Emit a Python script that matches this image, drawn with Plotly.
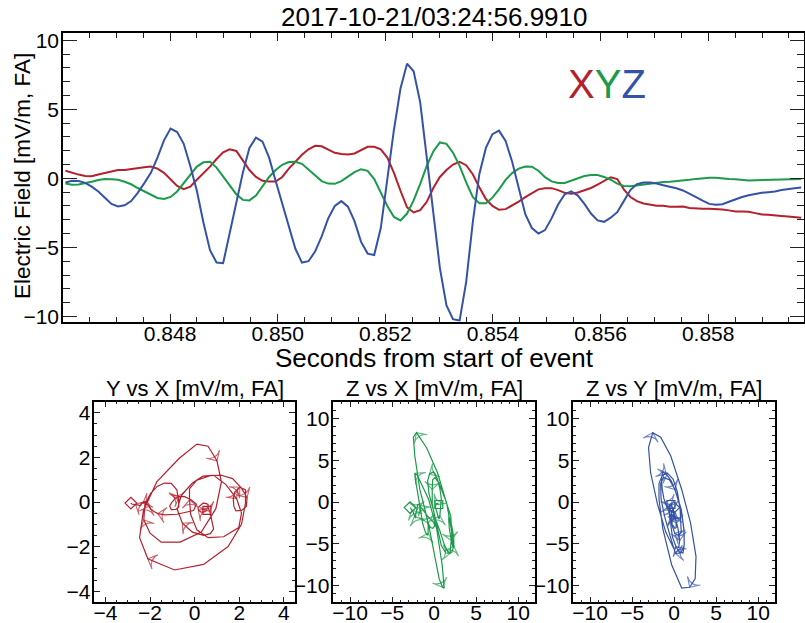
import numpy as np
import plotly.graph_objects as go

# ---------------- data ----------------
TITLE = "2017-10-21/03:24:56.9910"
T0 = 0.846056          # first sample time [s]
DT = 1.2207e-4         # sample spacing [s] (8192 samples/s)

ex = [0.55, 0.4, 0.27, 0.17, 0.15, 0.28, 0.38, 0.5, 0.6, 0.6,
      0.68, 0.74, 0.8, 0.85, 0.7, 0.4, -0.1, -0.55, -0.78, -0.6,
      -0.1, 0.37, 0.85, 1.4, 1.88, 2.1, 1.98, 1.3, 0.6, 0.1,
      -0.18, -0.23, -0.23, 0.1, 0.7, 1.2, 1.7, 2.1, 2.35, 2.32,
      2.1, 1.85, 1.76, 1.73, 1.8, 2.03, 2.28, 2.28, 2.1, 1.5,
      0.4, -0.9, -2.1, -2.47, -2.3, -1.7, -0.7, 0.1, 0.6, 1.0,
      1.2, 0.95, 0.3, -0.65, -1.5, -2.0, -2.28, -2.23, -1.98, -1.68,
      -1.36, -1.05, -0.8, -0.72, -0.71, -0.85, -1.05, -1.12, -1.03, -0.86,
      -0.7, -0.45, -0.16, 0.08, -0.05, -0.8, -1.35, -1.65, -1.82, -1.93,
      -1.99, -1.98, -2.06, -2.05, -2.04, -2.14, -2.18, -2.2, -2.2, -2.2,
      -2.25, -2.32, -2.4, -2.41, -2.42, -2.52, -2.61, -2.63, -2.65, -2.72,
      -2.77, -2.82, -2.86]

ey = [-0.38, -0.46, -0.44, -0.37, -0.25, -0.12, -0.05, -0.06, -0.11, -0.25,
      -0.43, -0.7, -0.95, -1.22, -1.42, -1.5, -1.35, -0.95, -0.33, 0.3,
      0.85, 1.16, 1.2, 0.78, 0.15, -0.5, -1.15, -1.56, -1.6, -1.25,
      -0.55, 0.1, 0.6, 0.98, 1.18, 1.2, 1.05, 0.62, 0.2, -0.2,
      -0.38, -0.4, -0.2, 0.15, 0.45, 0.66, 0.54, -0.05, -1.0, -2.0,
      -2.8, -3.05, -2.55, -1.6, -0.4, 0.9, 1.95, 2.6, 2.5, 1.85,
      0.9, -0.3, -1.35, -1.8, -1.8, -1.4, -0.8, -0.11, 0.38, 0.7,
      0.85, 0.84, 0.55, 0.08, -0.22, -0.33, -0.34, -0.18, -0.03, 0.17,
      0.24, 0.24, 0.1, -0.1, -0.38, -0.55, -0.58, -0.52, -0.43, -0.35,
      -0.3, -0.27, -0.24, -0.21, -0.18, -0.1, -0.04, 0.01, 0.05, 0.04,
      -0.02, -0.05, -0.06, -0.12, -0.16, -0.14, -0.13, -0.12, -0.11, -0.11,
      -0.11, -0.09, -0.05]

ez = [-0.3, -0.17, -0.2, -0.33, -0.6, -0.95, -1.4, -1.85, -2.04, -1.95,
      -1.65, -1.05, -0.35, 0.4, 1.5, 2.75, 3.6, 3.35, 2.5, 0.9,
      -0.9, -3.2, -5.2, -6.1, -6.15, -4.0, -1.7, 0.4, 2.2, 2.95,
      2.65, 1.5, -0.2, -1.9, -3.5, -5.1, -6.1, -6.0, -5.3, -4.2,
      -2.9, -2.0, -1.65, -2.05, -3.1, -4.6, -5.45, -5.55, -3.6, -0.2,
      3.5, 6.5, 8.3, 7.75, 5.5, 1.5, -2.5, -6.5, -9.2, -10.2,
      -10.3, -7.5, -3.2, 0.3, 2.2, 3.2, 3.45, 2.7, 1.2, -0.7,
      -2.6, -3.6, -4.0, -3.75, -2.9, -1.9, -1.15, -0.95, -1.25, -1.85,
      -2.55, -3.05, -3.15, -2.85, -2.45, -1.65, -0.85, -0.42, -0.3, -0.3,
      -0.37, -0.5, -0.6, -0.72, -0.88, -1.1, -1.36, -1.62, -1.85, -1.92,
      -1.88, -1.7, -1.5, -1.35, -1.22, -1.12, -1.05, -1.0, -0.96, -0.85,
      -0.76, -0.72, -0.67]

t = T0 + DT * np.arange(len(ex))

RED = "#b3212d"
GREEN = "#1b9a4a"
BLUE = "#3453a6"
FONT = "Liberation Sans, Arial, Helvetica, sans-serif"

W, H = 805, 623
ARROW_EVERY = 7


def fx(p):
    return p / W


def fy(p):
    return 1 - p / H


fig = go.Figure()

# ---------------- top time series ----------------
for vals, col in ((ex, RED), (ey, GREEN), (ez, BLUE)):
    fig.add_trace(go.Scatter(x=t, y=vals, mode="lines", xaxis="x", yaxis="y",
                             line=dict(color=col, width=2), showlegend=False,
                             hoverinfo="skip"))

# ---------------- hodograms ----------------
hodos = [
    ("x2", "y2", ex, ey, RED, "Y vs X [mV/m, FA]"),
    ("x3", "y3", ex, ez, GREEN, "Z vs X [mV/m, FA]"),
    ("x4", "y4", ey, ez, BLUE, "Z vs Y [mV/m, FA]"),
]
annotations = []
n_pts = len(ex)
arrow_sizes = [11 if (i % ARROW_EVERY == 3) else 0 for i in range(n_pts)]
for xa, ya, hx, hy, col, _ in hodos:
    fig.add_trace(go.Scatter(x=hx, y=hy, mode="lines+markers", xaxis=xa, yaxis=ya,
                             line=dict(color=col, width=1.2),
                             marker=dict(symbol="arrow-wide-open", size=arrow_sizes,
                                         angleref="previous", color=col,
                                         line=dict(color=col, width=1.1)),
                             showlegend=False, hoverinfo="skip"))
    fig.add_trace(go.Scatter(x=[hx[0]], y=[hy[0]], mode="markers", xaxis=xa, yaxis=ya,
                             marker=dict(symbol="square-open", size=8, color=col,
                                         line=dict(width=1.2)), showlegend=False,
                             hoverinfo="skip"))
    fig.add_trace(go.Scatter(x=[hx[-1]], y=[hy[-1]], mode="markers", xaxis=xa, yaxis=ya,
                             marker=dict(symbol="diamond-open", size=9, color=col,
                                         line=dict(width=1.2)), showlegend=False,
                             hoverinfo="skip"))

# ---------------- axes ----------------
def axis_common(font_size=21):
    return dict(showline=True, linecolor="black", linewidth=1.5, mirror="allticks",
                ticks="inside", tickcolor="#222", showgrid=False, zeroline=False,
                automargin=False,
                tickfont=dict(family=FONT, size=font_size, color="black"))


layout = dict(
    width=W, height=H, margin=dict(l=0, r=0, t=0, b=0, autoexpand=False),
    paper_bgcolor="white", plot_bgcolor="white", showlegend=False,
    font=dict(family=FONT, color="black"),
)

layout["xaxis"] = dict(axis_common(), domain=[fx(63), fx(804)], anchor="y",
                       range=[0.84601, 0.85978], tick0=0.848, dtick=0.002,
                       tickformat=".3f", ticklen=8, ticklabelstandoff=-8,
                       minor=dict(dtick=0.0005, ticks="inside", ticklen=5, tickcolor="#222"))
layout["yaxis"] = dict(axis_common(), domain=[fy(321.7), fy(33.3)], anchor="x",
                       range=[-10.38, 10.5], tick0=0, dtick=5, ticklen=14,
                       ticklabelstandoff=-2,
                       minor=dict(dtick=1, ticks="inside", ticklen=7, tickcolor="#222"))

panels = [(94.3, 295.0), (333.3, 535.0), (573.3, 775.0)]
ranges = [(4.5, 2, 0.5), (12, 5, 1), (12, 5, 1)]
for k, ((x0, x1), (r, dt_, mt)) in enumerate(zip(panels, ranges)):
    n = k + 2
    layout[f"xaxis{n}"] = dict(axis_common(), domain=[fx(x0), fx(x1)], anchor=f"y{n}",
                               range=[-r, r], tick0=0, dtick=dt_, ticklen=6,
                               ticklabelstandoff=-9,
                               minor=dict(dtick=mt, ticks="inside", ticklen=3, tickcolor="#222"))
    layout[f"yaxis{n}"] = dict(axis_common(), domain=[fy(602.3), fy(401.7)], anchor=f"x{n}",
                               range=[-r, r], tick0=0, dtick=dt_, ticklen=6,
                               ticklabelstandoff=-2,
                               minor=dict(dtick=mt, ticks="inside", ticklen=3, tickcolor="#222"))
    annotations.append(dict(text=hodos[k][5], x=fx((x0 + x1) / 2), y=fy(388),
                            xref="paper", yref="paper", showarrow=False,
                            xanchor="center", yanchor="middle",
                            font=dict(family=FONT, size=22, color="black")))

annotations += [
    dict(text=TITLE, x=fx(434), y=fy(17), xref="paper", yref="paper", showarrow=False,
         xanchor="center", yanchor="middle", font=dict(family=FONT, size=26, color="black")),
    dict(text="Seconds from start of event", x=fx(434), y=fy(358), xref="paper", yref="paper",
         showarrow=False, xanchor="center", yanchor="middle",
         font=dict(family=FONT, size=26, color="black")),
    dict(text="Electric Field [mV/m, FA]", x=fx(22), y=fy(176), xref="paper", yref="paper",
         showarrow=False, textangle=-90, xanchor="center", yanchor="middle",
         font=dict(family=FONT, size=22.5, color="black")),
    dict(text=f'<span style="color:{RED}">X</span><span style="color:{GREEN}">Y</span>'
              f'<span style="color:{BLUE}">Z</span>',
         x=fx(606.7), y=fy(84), xref="paper", yref="paper", showarrow=False,
         xanchor="center", yanchor="middle", font=dict(family=FONT, size=40)),
]
layout["annotations"] = annotations

fig.update_layout(**layout)
fig.write_html("out.html", config={"displayModeBar": False},
               post_script="document.body.style.margin='0';document.body.style.overflow='hidden';")
